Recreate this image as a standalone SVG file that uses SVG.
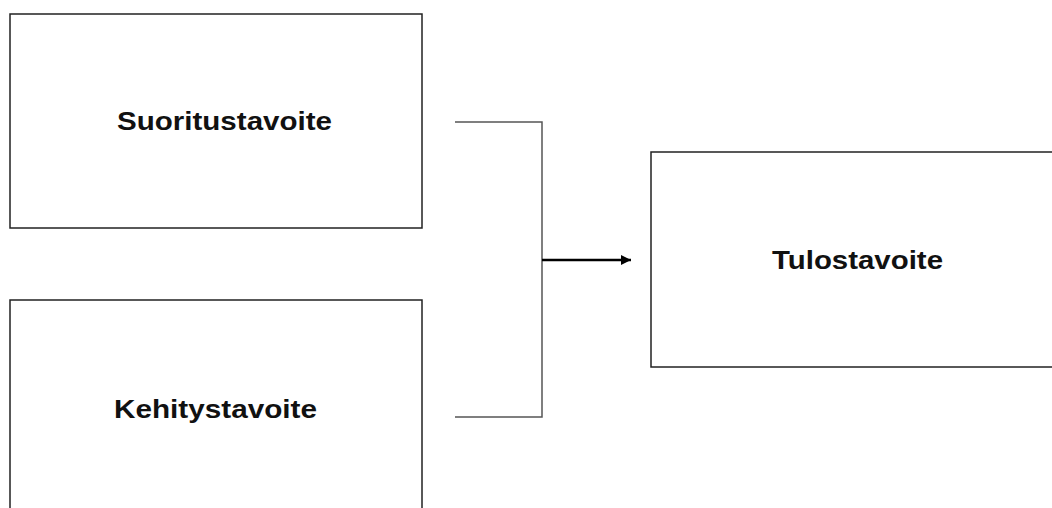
<svg xmlns="http://www.w3.org/2000/svg" width="1052" height="508" viewBox="0 0 1052 508">
<style>
.box{fill:#fff;stroke:#222;stroke-width:1.5}
.lbl{font-family:"Liberation Sans",Arial,sans-serif;font-weight:bold;font-size:26px;fill:#111}
.br{fill:none;stroke:#555;stroke-width:1.5}
.ar{fill:none;stroke:#000;stroke-width:2.5}
</style>
<defs>
<marker id="ah" viewBox="0 0 10 10" refX="10" refY="5" markerWidth="4.5" markerHeight="4" markerUnits="strokeWidth" orient="auto">
<path d="M0,0 L10,5 L0,10 z" fill="#000"/>
</marker>
</defs>
<rect width="1052" height="508" fill="#fff"/>
<g id="suoritustavoite">
<rect class="box" x="10" y="14" width="412" height="214"/>
<text class="lbl" x="117" y="130" textLength="215" lengthAdjust="spacingAndGlyphs">Suoritustavoite</text>
</g>
<g id="kehitystavoite">
<rect class="box" x="10" y="300" width="412" height="220"/>
<text class="lbl" x="114" y="418" textLength="203" lengthAdjust="spacingAndGlyphs">Kehitystavoite</text>
</g>
<g id="tulostavoite">
<rect class="box" x="651" y="152" width="420" height="215"/>
<text class="lbl" x="772" y="269" textLength="171" lengthAdjust="spacingAndGlyphs">Tulostavoite</text>
</g>
<g id="connectors">
<path class="br" d="M455,122 H542 V417 H455"/>
<line class="ar" x1="542" y1="260" x2="631" y2="260" marker-end="url(#ah)"/>
</g>
</svg>
